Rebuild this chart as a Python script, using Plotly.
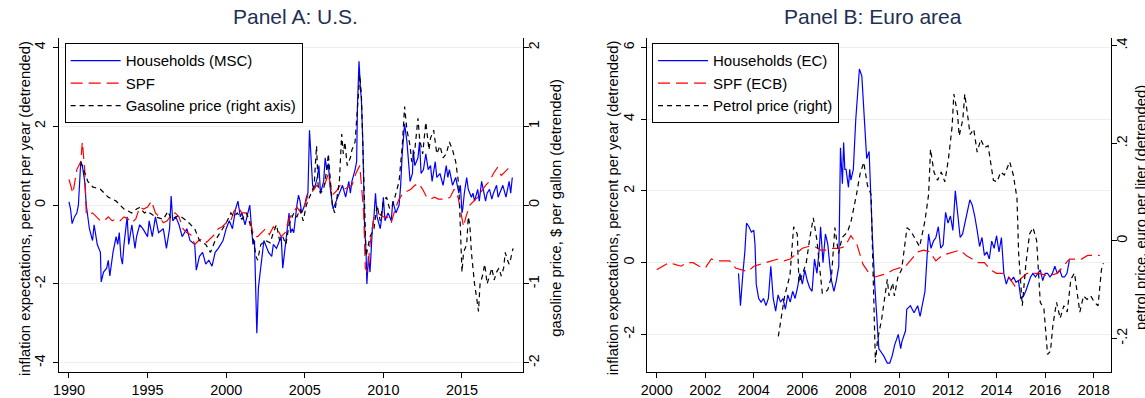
import plotly.graph_objects as go

# ---------------- Panel A: U.S. ----------------
msc_year = [1990.0, 1990.1, 1990.2, 1990.35, 1990.5, 1990.6, 1990.75, 1990.85, 1991.0, 1991.1, 1991.3, 1991.5,
            1991.6, 1991.8, 1992.0, 1992.05, 1992.2, 1992.4, 1992.5, 1992.6, 1992.8, 1993.0, 1993.1, 1993.2,
            1993.3, 1993.4, 1993.5, 1993.7, 1993.8, 1994.0, 1994.2, 1994.3, 1994.5, 1994.7, 1995.0, 1995.1,
            1995.3, 1995.5, 1995.7, 1996.0, 1996.2, 1996.4, 1996.5, 1996.6, 1996.8, 1997.0, 1997.2, 1997.5,
            1997.7, 1998.0, 1998.1, 1998.3, 1998.5, 1998.7, 1998.9, 1999.1, 1999.3, 1999.5, 1999.8, 2000.0,
            2000.2, 2000.4, 2000.6, 2000.75, 2000.9, 2001.0, 2001.2, 2001.4, 2001.5, 2001.6, 2001.7, 2001.8,
            2001.9, 2001.95, 2002.05, 2002.2, 2002.4, 2002.5, 2002.7, 2002.9, 2003.0, 2003.2, 2003.4, 2003.5,
            2003.6, 2003.8, 2003.9, 2004.0, 2004.1, 2004.2, 2004.3, 2004.4, 2004.5, 2004.6, 2004.7, 2004.8,
            2005.0, 2005.1, 2005.2, 2005.3, 2005.4, 2005.5, 2005.6, 2005.8, 2005.9, 2006.0, 2006.2, 2006.3,
            2006.4, 2006.5, 2006.6, 2006.8, 2007.0, 2007.2, 2007.4, 2007.6, 2007.8, 2007.9, 2008.0, 2008.2,
            2008.3, 2008.35, 2008.45, 2008.55, 2008.6, 2008.7, 2008.8, 2008.9, 2008.95, 2009.05, 2009.15, 2009.3,
            2009.4, 2009.5, 2009.6, 2009.8, 2009.9, 2010.0, 2010.1, 2010.3, 2010.5, 2010.6, 2010.8, 2011.0,
            2011.1, 2011.2, 2011.35, 2011.5, 2011.6, 2011.7, 2011.85, 2011.9, 2012.0, 2012.2, 2012.3, 2012.4,
            2012.55, 2012.7, 2012.85, 2013.0, 2013.1, 2013.3, 2013.4, 2013.6, 2013.8, 2014.0, 2014.1, 2014.2,
            2014.3, 2014.4, 2014.6, 2014.8, 2014.9, 2015.0, 2015.05, 2015.15, 2015.3, 2015.4, 2015.6, 2015.7,
            2015.8, 2016.0, 2016.1, 2016.25, 2016.4, 2016.5, 2016.6, 2016.75, 2016.9, 2017.0, 2017.2, 2017.3,
            2017.5, 2017.6, 2017.8, 2017.9, 2018.0, 2018.1, 2018.2]
msc_value = [0.08, -0.1, -0.47, -0.3, -0.2, 0.0, 1.1, 1.0, 0.6, 0.0, -0.6, -0.9,
             -0.5, -1.0, -1.2, -1.95, -1.7, -1.6, -1.4, -1.8, -1.2, -0.8, -1.0, -0.7,
             -1.3, -1.5, -1.0, -0.3, -1.0, -0.5, -1.1, -0.8, -0.5, -0.6, -0.8, -0.4,
             -0.8, -0.3, -0.7, -0.6, -1.1, -0.6, 0.23, -0.4, -0.3, -0.5, -0.8, -0.6,
             -0.9, -1.0, -1.65, -1.3, -1.2, -1.5, -1.4, -1.55, -1.2, -1.1, -0.9, -0.6,
             -0.4, -0.6, -0.1, 0.1, -0.3, -0.2, -0.5, -0.2, 0.0, -0.5, -1.0, -0.9,
             -2.1, -3.25, -2.1, -1.6, -0.9, -1.0, -1.2, -1.3, -1.0, -1.1, -0.9, -0.8,
             -1.6, -0.9, -0.5, -0.2, -0.7, -0.6, -0.7, -0.3, 0.0, 0.25, 0.1, -0.2,
             0.0, 0.2, 0.3, 1.9, 1.0, 0.5, 0.4, 0.7, 1.0, 0.3, 0.6, 1.2,
             0.9, 1.05, 0.5, -0.1, 0.1, 0.3, 0.5, 0.2, 0.6, 0.3, 0.6, 0.9,
             1.1, 2.5, 3.65, 2.9, 2.7, 1.5, -0.5, -1.2, -2.0, -1.3, -1.7, -0.6,
             -0.3, 0.3, -0.3, -0.6, -0.3, 0.2, -0.4, -0.2, -0.4, 0.1, -0.2, 0.0,
             0.5, 1.3, 2.06, 1.6, 1.1, 0.6, 0.8, 1.4, 1.0, 1.2, 1.6, 0.8,
             0.9, 1.3, 0.9, 1.0, 0.6, 1.1, 0.7, 0.8, 0.5, 1.0, 0.7, 0.9,
             0.7, 0.5, 0.7, 0.3, 0.5, -0.2, -0.1, 0.3, 0.7, 0.4, 0.2, 0.3,
             0.1, 0.4, 0.1, 0.6, 0.3, 0.1, 0.3, 0.4, 0.15, 0.3, 0.5, 0.2,
             0.4, 0.5, 0.2, 0.4, 0.6, 0.3, 0.7]

spf_us_year = [1990.0, 1990.25, 1990.5, 1990.75, 1990.85, 1991.0, 1991.1, 1991.25, 1991.5, 1991.75, 1992.0,
               1992.25, 1992.5, 1992.75, 1993.0, 1993.25, 1993.5, 1993.75, 1994.0, 1994.25, 1994.5, 1994.75,
               1995.0, 1995.25, 1995.5, 1995.75, 1996.0, 1996.25, 1996.5, 1996.75, 1997.0, 1997.25, 1997.5,
               1997.75, 1998.0, 1998.25, 1998.5, 1998.75, 1999.0, 1999.25, 1999.5, 1999.75, 2000.0, 2000.25,
               2000.5, 2000.75, 2001.0, 2001.25, 2001.5, 2001.75, 2002.0, 2002.25, 2002.5, 2002.75, 2003.0,
               2003.25, 2003.5, 2003.75, 2004.0, 2004.25, 2004.5, 2004.75, 2005.0, 2005.25, 2005.5, 2005.75,
               2006.0, 2006.25, 2006.5, 2006.75, 2007.0, 2007.25, 2007.5, 2007.75, 2008.0, 2008.25, 2008.5,
               2008.75, 2008.85, 2009.0, 2009.15, 2009.4, 2009.6, 2009.85, 2010.0, 2010.25, 2010.5, 2010.75,
               2011.0, 2011.25, 2011.5, 2011.75, 2012.0, 2012.25, 2012.5, 2012.75, 2013.0, 2013.25, 2013.5,
               2013.75, 2014.0, 2014.25, 2014.5, 2014.75, 2015.0, 2015.1, 2015.25, 2015.5, 2015.75, 2016.0,
               2016.25, 2016.5, 2016.75, 2017.0, 2017.25, 2017.5, 2017.75, 2018.0, 2018.2]
spf_us_value = [0.65, 0.3, 0.9, 1.1, 1.6, 0.9, -0.2, -0.25, -0.2, -0.3, -0.4,
                -0.4, -0.3, -0.4, -0.35, -0.4, -0.3, -0.35, -0.45, -0.35, -0.05, -0.1,
                -0.05, 0.1, -0.2, -0.3, -0.45, -0.4, -0.25, -0.2, -0.3, -0.6, -0.7,
                -0.75, -1.0, -0.9, -0.85, -0.95, -0.85, -0.75, -0.6, -0.55, -0.45, -0.45,
                -0.15, -0.05, -0.2, -0.2, -0.35, -0.8, -0.8, -0.7, -0.6, -0.75, -0.55,
                -0.6, -0.8, -0.7, -0.35, -0.2, -0.05, -0.2, 0.0, 0.3, 0.35, 0.5,
                0.4, 0.5, 0.8, 0.25, 0.35, 0.5, 0.4, 0.45, 0.5, 0.8, 1.0,
                -0.2, -1.6, -1.7, -1.0, -0.3, -0.2, -0.25, -0.3, -0.3, -0.45, -0.1,
                0.15, 0.3, 0.35, 0.4, 0.5, 0.55, 0.4, 0.2, 0.15, 0.2, 0.15,
                0.15, 0.15, 0.2, 0.4, 0.2, -0.3, -0.55, -0.3, 0.0, 0.1, 0.2,
                0.35, 0.5, 0.6, 0.8, 0.95, 0.75, 0.85, 0.95, 1.0]

# gasoline price, $ per gallon (detrended), right axis
gas_year = [1990.75, 1991.2, 1991.5, 1992.0, 1992.5, 1993.0, 1993.5, 1994.0, 1994.3, 1994.5, 1994.8, 1995.0,
            1995.5, 1996.0, 1996.3, 1996.5, 1997.0, 1997.5, 1998.0, 1998.3, 1998.7, 1999.0, 1999.3, 1999.6,
            2000.0, 2000.3, 2000.5, 2000.7, 2001.0, 2001.3, 2001.5, 2001.7, 2001.9, 2002.0, 2002.2, 2002.5,
            2002.8, 2003.0, 2003.2, 2003.4, 2003.6, 2003.8, 2004.0, 2004.3, 2004.5, 2004.7, 2004.9, 2005.1,
            2005.4, 2005.6, 2005.7, 2005.75, 2005.85, 2006.0, 2006.2, 2006.4, 2006.5, 2006.6, 2006.75, 2006.9,
            2007.0, 2007.2, 2007.35, 2007.45, 2007.55, 2007.7, 2007.9, 2008.0, 2008.2, 2008.35, 2008.5, 2008.6,
            2008.7, 2008.8, 2008.9, 2009.0, 2009.15, 2009.4, 2009.6, 2009.8, 2010.0, 2010.2, 2010.4, 2010.6,
            2010.8, 2011.0, 2011.2, 2011.35, 2011.5, 2011.7, 2011.8, 2012.0, 2012.2, 2012.3, 2012.5, 2012.7,
            2012.9, 2013.0, 2013.2, 2013.4, 2013.6, 2013.8, 2014.0, 2014.2, 2014.4, 2014.6, 2014.8, 2014.9,
            2015.0, 2015.1, 2015.3, 2015.4, 2015.5, 2015.6, 2015.7, 2015.8, 2015.95, 2016.05, 2016.15, 2016.3,
            2016.45, 2016.6, 2016.75, 2016.9, 2017.05, 2017.2, 2017.35, 2017.5, 2017.65, 2017.75, 2017.9, 2018.0,
            2018.1, 2018.25]
gas_value = [0.55, 0.3, 0.23, 0.2, 0.1, 0.05, -0.05, -0.1, -0.05, -0.03, -0.1, -0.08,
             -0.15, -0.18, -0.08, -0.18, -0.13, -0.2, -0.3, -0.45, -0.5, -0.6, -0.45, -0.35,
             -0.23, -0.1, -0.15, -0.1, -0.18, -0.1, -0.23, -0.4, -0.65, -0.7, -0.5, -0.45,
             -0.48, -0.35, -0.25, -0.45, -0.4, -0.5, -0.25, -0.1, -0.15, -0.05, -0.2, 0.0,
             0.15, 0.25, 0.6, 0.75, 0.25, 0.15, 0.2, 0.45, 0.65, 0.4, 0.0, -0.1,
             0.05, 0.3, 0.9, 0.65, 0.8, 0.5, 0.6, 0.7, 0.8, 1.25, 1.65, 1.4,
             0.75, 0.0, -0.65, -0.55, -0.4, -0.3, 0.0, -0.2, 0.05, 0.1, -0.05, 0.0,
             0.15, 0.3, 0.75, 1.25, 0.95, 0.75, 0.55, 0.7, 1.1, 0.85, 0.65, 1.05,
             0.7, 0.85, 0.95, 0.65, 0.75, 0.6, 0.65, 0.8, 0.7, 0.55, 0.25, -0.25,
             -0.85, -0.6, -0.5, -0.15, -0.25, -0.6, -0.8, -1.0, -1.2, -1.35, -1.0, -0.9,
             -0.75, -1.0, -0.9, -0.8, -0.95, -0.85, -0.8, -0.9, -0.8, -0.6, -0.7, -0.75,
             -0.68, -0.55]

# ---------------- Panel B: Euro area ----------------
ec_year = [2003.37, 2003.45, 2003.55, 2003.63, 2003.7, 2003.8, 2003.9, 2004.0, 2004.05, 2004.1, 2004.2, 2004.3,
           2004.4, 2004.5, 2004.6, 2004.7, 2004.8, 2004.9, 2005.0, 2005.1, 2005.2, 2005.3, 2005.4, 2005.5,
           2005.6, 2005.7, 2005.8, 2005.9, 2006.0, 2006.1, 2006.2, 2006.3, 2006.4, 2006.5, 2006.6, 2006.7,
           2006.75, 2006.85, 2006.95, 2007.05, 2007.12, 2007.2, 2007.3, 2007.4, 2007.5,
           2007.57, 2007.65, 2007.7, 2007.75, 2007.8, 2007.9, 2007.95, 2008.0, 2008.1, 2008.2, 2008.35, 2008.45,
           2008.55, 2008.65, 2008.75, 2008.8, 2008.88, 2008.98, 2009.05, 2009.15, 2009.25, 2009.35, 2009.5,
           2009.6, 2009.7, 2009.8, 2009.95, 2010.05, 2010.1, 2010.25, 2010.3, 2010.45, 2010.6, 2010.75, 2010.85,
           2010.95, 2011.05, 2011.15, 2011.2, 2011.3, 2011.4, 2011.5, 2011.6, 2011.7, 2011.8, 2011.9, 2012.0,
           2012.1, 2012.2, 2012.3, 2012.4, 2012.5, 2012.6, 2012.7, 2012.8, 2012.9, 2013.0, 2013.1, 2013.2,
           2013.3, 2013.4, 2013.5, 2013.6, 2013.7, 2013.8, 2013.9, 2014.0, 2014.1, 2014.2, 2014.3, 2014.4,
           2014.5, 2014.6, 2014.7, 2014.8, 2014.9, 2015.0, 2015.1, 2015.2, 2015.3, 2015.4, 2015.5, 2015.6,
           2015.7, 2015.8, 2015.9, 2016.0, 2016.1, 2016.2, 2016.3, 2016.4, 2016.5, 2016.6, 2016.7, 2016.8,
           2016.9, 2017.0]
ec_value = [-0.3, -1.2, -0.3, 0.3, 1.1, 1.0, 0.85, 0.9, 0.5, -0.6, -1.0, -1.1,
            -1.0, -1.2, -1.0, -0.1, -1.0, -1.35, -0.9, -1.1, -1.0, -1.3, -0.9, -1.1,
            -0.8, -1.0, -0.7, -0.3, -0.6, -0.2, -0.5, -0.7, -0.8, 0.1, -0.3, 0.4,
            1.0, 0.0, 0.8, 0.5, 0.0, -0.5, -0.8, -0.5, -0.1,
            3.2, 2.2, 3.35, 2.6, 2.6, 2.1, 2.6, 2.3, 2.6, 4.0, 5.4, 5.2,
            4.0, 2.9, 3.1, 2.0, 0.8, -0.6, -1.5, -2.4, -2.5, -2.6, -2.8,
            -2.8, -2.6, -2.3, -2.0, -2.4, -2.2, -1.9, -1.3, -1.2, -1.4, -1.2, -1.5,
            -1.1, -0.8, 0.3, 0.8, 0.4, 0.6, 0.7, 1.0, 0.4, 0.5, 1.4, 1.1,
            1.3, 0.9, 2.0, 1.3, 0.7, 0.8, 1.1, 1.4, 1.75, 1.6, 1.3, 0.9,
            0.45, 0.7, 0.2, 0.3, 0.1, 0.6, 0.4, 0.75, 0.3, 0.7, -0.3, -0.6,
            -0.4, -0.5, -0.4, -0.55, -0.5, -1.0, -0.95, -0.8, -0.6, -0.4, -0.3, -0.4,
            -0.3, -0.2, -0.5, -0.3, -0.3, -0.4, -0.3, -0.1, -0.3, -0.2, -0.4, -0.4,
            -0.3, 0.07]

spf_ea_year = [2000.0, 2000.25, 2000.5, 2000.75, 2001.0, 2001.25, 2001.5, 2001.75, 2002.0, 2002.25, 2002.5,
               2002.75, 2003.0, 2003.25, 2003.5, 2003.75, 2004.0, 2004.25, 2004.5, 2004.75, 2005.0, 2005.25,
               2005.5, 2005.75, 2006.0, 2006.25, 2006.5, 2006.75, 2007.0, 2007.25, 2007.5, 2007.75, 2008.0,
               2008.25, 2008.5, 2008.75, 2009.0, 2009.25, 2009.5, 2009.75, 2010.0, 2010.25, 2010.5, 2010.75,
               2011.0, 2011.25, 2011.5, 2011.75, 2012.0, 2012.25, 2012.5, 2012.75, 2013.0, 2013.25, 2013.5,
               2013.75, 2014.0, 2014.25, 2014.5, 2014.75, 2015.0, 2015.25, 2015.5, 2015.75, 2016.0, 2016.25,
               2016.5, 2016.75, 2017.0, 2017.25, 2017.5, 2017.75, 2018.0, 2018.25]
spf_ea_value = [-0.2, -0.1, 0.0, -0.05, -0.1, 0.0, 0.0, -0.1, -0.15, 0.1, 0.05,
                0.05, 0.05, -0.15, -0.2, -0.25, -0.1, -0.05, 0.0, 0.05, 0.1, 0.05,
                0.1, 0.25, 0.4, 0.45, 0.45, 0.35, 0.35, 0.4, 0.4, 0.45, 0.75,
                0.5, -0.05, -0.3, -0.4, -0.35, -0.3, -0.2, -0.15, -0.1, 0.1, 0.3,
                0.35, 0.3, 0.05, 0.2, 0.25, 0.3, 0.35, 0.2, 0.1, 0.0, 0.0,
                -0.2, -0.3, -0.3, -0.4, -0.65, -0.45, -0.3, -0.3, -0.3, -0.35, -0.35,
                -0.3, -0.1, 0.1, 0.1, 0.1, 0.2, 0.2, 0.2]

# petrol price, euro per liter (detrended), right axis
petrol_year = [2005.01, 2005.27, 2005.49, 2005.64, 2005.79, 2005.86, 2006.01, 2006.16, 2006.31, 2006.45, 2006.60,
               2006.82, 2006.90, 2007.05, 2007.20, 2007.34, 2007.49, 2007.64, 2007.86, 2008.01, 2008.23, 2008.38,
               2008.53, 2008.68, 2008.83, 2008.90, 2009.01, 2009.09, 2009.27, 2009.50, 2009.57, 2009.72, 2009.79,
               2009.94, 2010.09, 2010.31, 2010.46, 2010.68, 2010.83, 2011.05, 2011.20, 2011.28, 2011.42, 2011.57,
               2011.72, 2011.87, 2012.02, 2012.17, 2012.24, 2012.39, 2012.46, 2012.61, 2012.69, 2012.83, 2012.91,
               2013.06, 2013.20, 2013.35, 2013.50, 2013.65, 2013.72, 2013.87, 2014.02, 2014.17, 2014.32, 2014.54,
               2014.69, 2014.76, 2014.84, 2014.91, 2015.06, 2015.21, 2015.36, 2015.50, 2015.65, 2015.80, 2015.95,
               2016.10, 2016.22, 2016.32, 2016.47, 2016.62, 2016.77, 2016.91, 2017.06, 2017.21, 2017.43, 2017.58,
               2017.73, 2017.88, 2018.03, 2018.18, 2018.32, 2018.40]
petrol_value = [-0.196, -0.113, -0.070, 0.029, 0.014, -0.086, -0.067, -0.045, 0.007, 0.047, 0.001,
                -0.107, -0.107, -0.100, -0.073, 0.027, -0.026, 0.007, 0.018, 0.041, 0.095, 0.138,
                0.161, 0.114, 0.095, -0.026, -0.250, -0.206, -0.159, -0.079, -0.113, -0.086, -0.113,
                -0.073, -0.059, 0.027, 0.021, 0.001, -0.012, 0.041, 0.095, 0.188, 0.141, 0.124,
                0.141, 0.121, 0.169, 0.235, 0.301, 0.262, 0.215, 0.249, 0.301, 0.249, 0.218,
                0.229, 0.182, 0.208, 0.191, 0.195, 0.175, 0.124, 0.121, 0.141, 0.135, 0.162,
                0.135, 0.114, 0.088, -0.026, -0.133, -0.046, 0.014, 0.027, 0.001, -0.126, -0.139,
                -0.233, -0.226, -0.173, -0.126, -0.159, -0.133, -0.146, -0.079, -0.066, -0.146, -0.113,
                -0.120, -0.113, -0.126, -0.133, -0.059, -0.046]

# ---------------- styling ----------------
W, H = 1145, 398
FONT = "Liberation Sans, Arial, sans-serif"
BLUE, RED, BLACK = "#0000ff", "#ff0000", "#000000"
GRID = "#e9f0f2"
TITLE_COLOR = "#1f2f55"
LONG_DASH = "12px,6px"
SHORT_DASH = "5px,4px"
TICK_SIZE = 14.4
AXIS_TITLE_SIZE = 14.8
LEGEND_SIZE = 15


def px_x(p):
    return p / W


def px_y(p):
    return 1 - p / H


top, bottom = 38.7, 377.7
ydom = [px_y(bottom), px_y(top)]
xdomA = [px_x(52.7), px_x(519.3)]
xdomB = [px_x(644.3), px_x(1110.7)]

fig = go.Figure()

fig.add_trace(go.Scatter(x=msc_year, y=msc_value, mode="lines", name="Households (MSC)",
                         line=dict(color=BLUE, width=1.2), xaxis="x", yaxis="y", legend="legend"))
fig.add_trace(go.Scatter(x=spf_us_year, y=spf_us_value, mode="lines", name="SPF",
                         line=dict(color=RED, width=1.2, dash=LONG_DASH), xaxis="x", yaxis="y", legend="legend"))
fig.add_trace(go.Scatter(x=gas_year, y=gas_value, mode="lines", name="Gasoline price (right axis)",
                         line=dict(color=BLACK, width=1.2, dash=SHORT_DASH), xaxis="x", yaxis="y2", legend="legend"))

fig.add_trace(go.Scatter(x=ec_year, y=ec_value, mode="lines", name="Households (EC)",
                         line=dict(color=BLUE, width=1.2), xaxis="x2", yaxis="y3", legend="legend2"))
fig.add_trace(go.Scatter(x=spf_ea_year, y=spf_ea_value, mode="lines", name="SPF (ECB)",
                         line=dict(color=RED, width=1.2, dash=LONG_DASH), xaxis="x2", yaxis="y3", legend="legend2"))
fig.add_trace(go.Scatter(x=petrol_year, y=petrol_value, mode="lines", name="Petrol price (right)",
                         line=dict(color=BLACK, width=1.2, dash=SHORT_DASH), xaxis="x2", yaxis="y4", legend="legend2"))

tickfont = dict(family=FONT, size=TICK_SIZE, color="black")
common_x = dict(showline=True, linecolor="black", linewidth=1, ticks="outside", ticklen=5,
                tickcolor="black", showgrid=False, zeroline=False, tickfont=tickfont, mirror=False)
common_y = dict(showline=True, linecolor="black", linewidth=1, ticks="outside", ticklen=5,
                tickcolor="black", zeroline=False, tickfont=tickfont, tickangle=-90)

# Euro panel right axis aligned so that .4 sits on the 6 gridline
eu_left = [-3.05, 6.26]
eu_right = [(v - 0.6075) / 13.6 for v in eu_left]

legend_style = dict(xanchor="left", yanchor="top", bordercolor="black", borderwidth=1, bgcolor="white",
                    font=dict(family=FONT, size=LEGEND_SIZE, color="black"), itemwidth=50,
                    tracegroupgap=0)

fig.update_layout(
    width=W, height=H, margin=dict(l=0, r=0, t=0, b=0),
    paper_bgcolor="white", plot_bgcolor="white",
    font=dict(family=FONT, size=TICK_SIZE, color="black"),
    xaxis=dict(domain=xdomA, range=[1989.39, 2018.89], anchor="y",
               tickvals=[1990, 1995, 2000, 2005, 2010, 2015], **common_x),
    yaxis=dict(domain=ydom, range=[-4.235, 4.235], anchor="x",
               tickvals=[-4, -2, 0, 2, 4], ticktext=["-4", "-2", "0", "2", "4"],
               showgrid=True, gridcolor=GRID, gridwidth=1, ticklabelstandoff=3, **common_y),
    yaxis2=dict(range=[-2.1175, 2.1175], overlaying="y", side="right", anchor="x",
                tickvals=[-2, -1, 0, 1, 2], ticktext=["-2", "-1", "0", "1", "2"],
                showgrid=False, ticklabelstandoff=-7, **common_y),
    xaxis2=dict(domain=xdomB, range=[1999.615, 2018.71], anchor="y3",
                tickvals=list(range(2000, 2019, 2)), **common_x),
    yaxis3=dict(domain=ydom, range=eu_left, anchor="x2",
                tickvals=[-2, 0, 2, 4, 6], ticktext=["-2", "0", "2", "4", "6"],
                showgrid=True, gridcolor=GRID, gridwidth=1, ticklabelstandoff=2, **common_y),
    yaxis4=dict(range=eu_right, overlaying="y3", side="right", anchor="x2",
                tickvals=[-0.2, 0, 0.2, 0.4], ticktext=["-.2", "0", ".2", ".4"],
                showgrid=False, ticklabelstandoff=-7, **common_y),
    legend=dict(x=px_x(58), y=px_y(44), **legend_style),
    legend2=dict(x=px_x(649), y=px_y(44), **legend_style),
    showlegend=True,
)

# panel titles and axis titles
ann = []
ann.append(dict(text="Panel A: U.S.", x=px_x(290), y=px_y(17), xref="paper", yref="paper",
                showarrow=False, font=dict(family=FONT, size=21, color=TITLE_COLOR),
                xanchor="center", yanchor="middle"))
ann.append(dict(text="Panel B: Euro area", x=px_x(871), y=px_y(17), xref="paper", yref="paper",
                showarrow=False, font=dict(family=FONT, size=21, color=TITLE_COLOR),
                xanchor="center", yanchor="middle"))
mid_y = px_y((top + bottom) / 2 + 3)
for xpix, txt in [(18, "inflation expectations, percent per year (detrended)"),
                  (552, "gasoline price, $ per gallon (detrended)"),
                  (610, "inflation expectations, percent per year (detrended)"),
                  (1141, "petrol price, euro per liter (detrended)")]:
    ann.append(dict(text=txt, x=px_x(xpix), y=mid_y, xref="paper", yref="paper", textangle=-90,
                    showarrow=False, font=dict(family=FONT, size=AXIS_TITLE_SIZE, color="black"),
                    xanchor="center", yanchor="middle"))
fig.update_layout(annotations=ann)

fig.write_html("out.html")
